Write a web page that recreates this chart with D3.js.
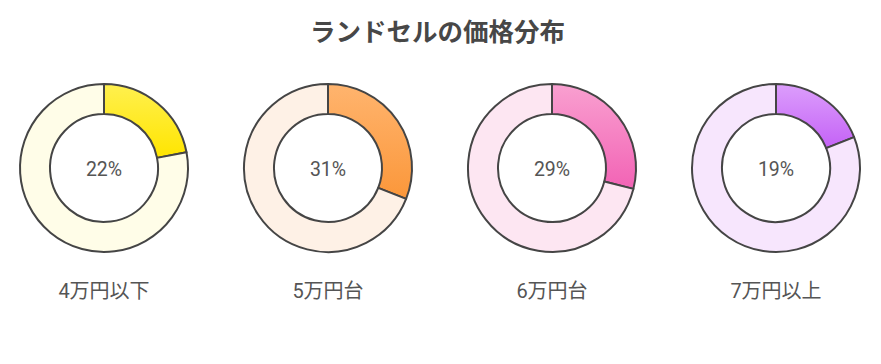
<!DOCTYPE html>
<html><head><meta charset="utf-8">
<script src="https://cdn.jsdelivr.net/npm/d3@7"></script>
<style>body{margin:0;background:#fff;}svg{display:block;}</style>
</head><body>
<script>
const title = "ランドセルの価格分布";
const categories = ["4万円以下", "5万円台", "6万円台", "7万円以上"];
const values = [22, 31, 29, 19];
const colorTop = ["#fff04f", "#ffb46e", "#f9a0d0", "#dc9efc"];
const colorBottom = ["#ffe500", "#fb973a", "#f263b5", "#c462f6"];
const colorRest = ["#fffde8", "#fef1e6", "#fde6f2", "#f7e6fd"];

const W = 881, H = 364;
const svg = d3.select("body").append("svg").attr("width", W).attr("height", H);
const defs = svg.append("defs");

svg.append("text").attr("x", W / 2 - 3).attr("y", 29).attr("text-anchor", "middle")
  .attr("dominant-baseline", "central")
  .style("font-family", "'Noto Sans CJK JP', sans-serif").style("font-weight", "bold")
  .style("font-size", "25.5px").attr("fill", "#474747").text(title);

const x = d3.scalePoint().domain(categories).range([104, 776]);
const cy = 168, rOut = 84, rIn = 54;
const arc = d3.arc().innerRadius(rIn).outerRadius(rOut);
const pie = d3.pie().sort(null).value(d => d);

categories.forEach((c, i) => {
  const g = svg.append("g").attr("transform", `translate(${x(c)},${cy})`);
  const grad = defs.append("linearGradient").attr("id", "g" + i)
    .attr("x1", 0).attr("y1", 0).attr("x2", 0).attr("y2", 1);
  grad.append("stop").attr("offset", "0%").attr("stop-color", colorTop[i]);
  grad.append("stop").attr("offset", "100%").attr("stop-color", colorBottom[i]);
  const arcs = pie([values[i], 100 - values[i]]);
  g.selectAll("path").data(arcs).join("path")
    .attr("d", arc)
    .attr("fill", (d, j) => j === 0 ? `url(#g${i})` : colorRest[i])
    .attr("stroke", "#454545").attr("stroke-width", 2).attr("stroke-linejoin", "round");
  g.append("text").attr("text-anchor", "middle").attr("dominant-baseline", "central")
    .attr("y", 1)
    .style("font-family", "Roboto, sans-serif").style("font-size", "19.5px")
    .attr("fill", "#555").text(values[i] + "%");
  svg.append("text").attr("x", x(c)).attr("y", 291).attr("text-anchor", "middle")
    .attr("dominant-baseline", "central")
    .style("font-family", "Roboto, 'Noto Sans CJK JP', sans-serif").style("font-size", "20px")
    .attr("fill", "#555").text(c);
});
</script>
</body></html>
